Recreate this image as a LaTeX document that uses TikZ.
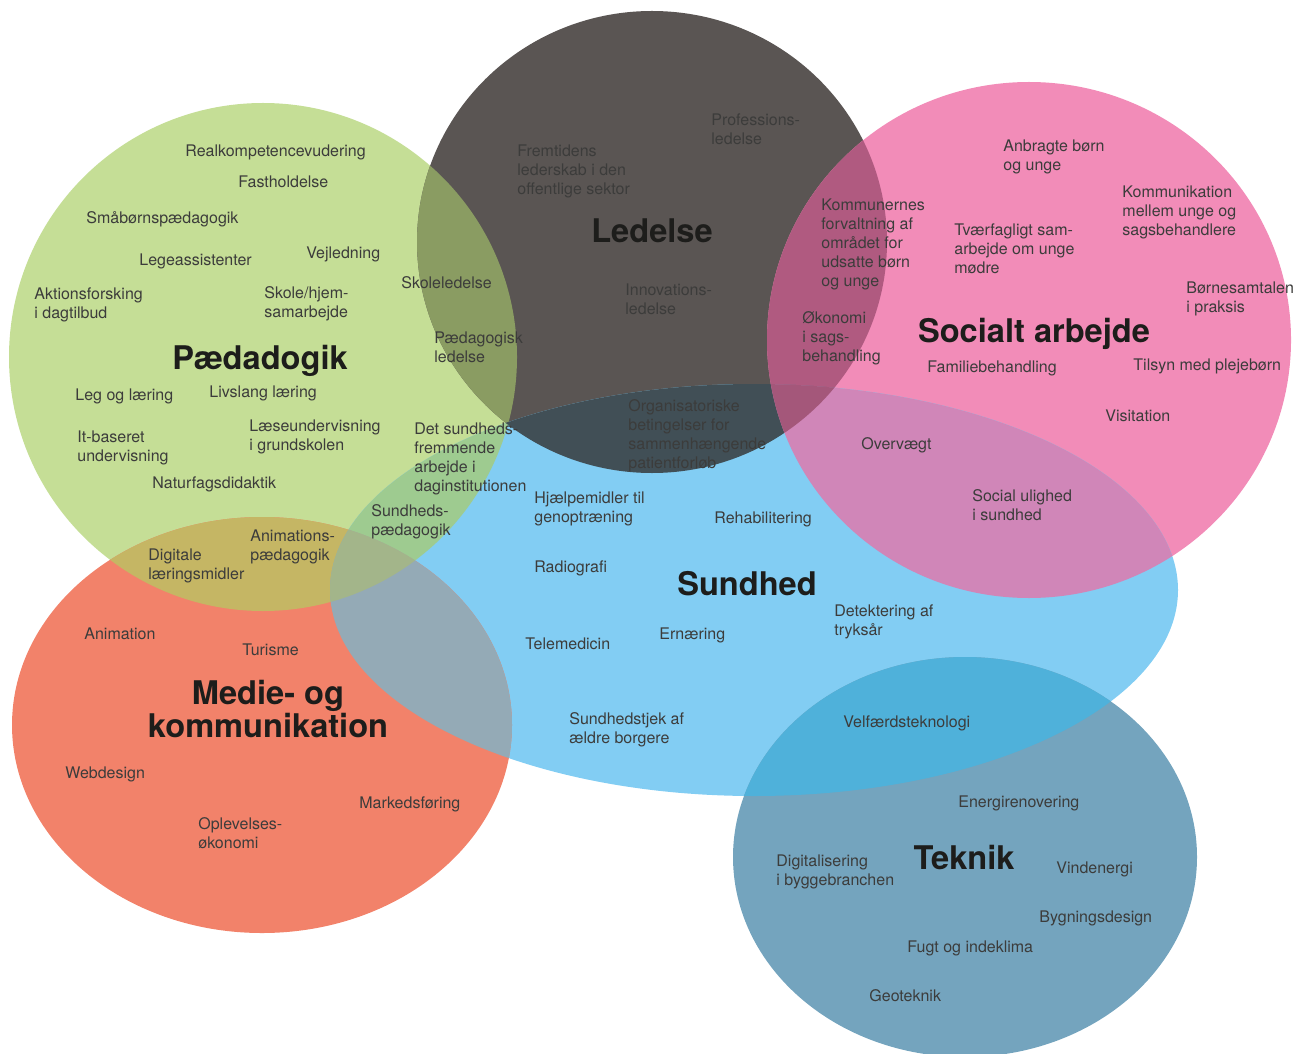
\documentclass[tikz,border=0pt]{standalone}
\usepackage{fontspec}
\setmainfont{TeX Gyre Heros}

% fills of the six fields and of their overlaps
\definecolor{paedgreen}{HTML}{C5DE96}
\definecolor{ledgray}{HTML}{5A5553}
\definecolor{socpink}{HTML}{F28CB8}
\definecolor{sundblue}{HTML}{82CDF3}
\definecolor{mediered}{HTML}{F2826A}
\definecolor{tekblue}{HTML}{74A4BE}
\definecolor{paedled}{HTML}{8A9C62}
\definecolor{ledsoc}{HTML}{B05A80}
\definecolor{ledsund}{HTML}{414F56}
\definecolor{socsund}{HTML}{D086B8}
\definecolor{paedmedie}{HTML}{C5B664}
\definecolor{sundmedie}{HTML}{94AAB6}
\definecolor{paedsund}{HTML}{9ECB90}
\definecolor{sundtek}{HTML}{4FB1DA}
\definecolor{ledsocsund}{HTML}{A4577A}
\definecolor{paedmediesund}{HTML}{A3B58A}
\definecolor{labelgray}{HTML}{3C3C3B}
\definecolor{titleblack}{HTML}{1D1D1B}

\tikzset{
    paedpath/.style={insert path={(263,357) ellipse [x radius=127pt, y radius=127pt]}},
    ledpath/.style={insert path={(652,242) ellipse [x radius=117.5pt, y radius=115.5pt]}},
    socpath/.style={insert path={(1029,340) ellipse [x radius=131pt, y radius=129pt]}},
    sundpath/.style={insert path={(754,590) ellipse [x radius=212pt, y radius=103pt]}},
    mediepath/.style={insert path={(262,725) ellipse [x radius=125pt, y radius=104pt]}},
    tekpath/.style={insert path={(965,857) ellipse [x radius=116pt, y radius=100pt]}},
    topic/.style={anchor=north west, inner sep=0pt, align=left,
        font=\fontsize{8}{9.6}\selectfont, text=labelgray},
    field/.style={inner sep=0pt, align=center,
        font=\fontsize{16.3}{15.5}\selectfont\bfseries, text=titleblack}
}

\begin{document}
\begin{tikzpicture}[x=0.5pt, y=-0.5pt]

        \useasboundingbox (0,0) rectangle (1293,1053);

        % Fields
        \fill[paedgreen, paedpath];
        \fill[ledgray, ledpath];
        \fill[socpink, socpath];
        \fill[sundblue, sundpath];
        \fill[mediered, mediepath];
        \fill[tekblue, tekpath];

        % Overlaps of two fields
        \begin{scope} \clip[paedpath]; \fill[paedled, ledpath]; \end{scope}
        \begin{scope} \clip[paedpath]; \fill[paedsund, sundpath]; \end{scope}
        \begin{scope} \clip[paedpath]; \fill[paedmedie, mediepath]; \end{scope}
        \begin{scope} \clip[ledpath]; \fill[ledsoc, socpath]; \end{scope}
        \begin{scope} \clip[ledpath]; \fill[ledsund, sundpath]; \end{scope}
        \begin{scope} \clip[socpath]; \fill[socsund, sundpath]; \end{scope}
        \begin{scope} \clip[sundpath]; \fill[sundmedie, mediepath]; \end{scope}
        \begin{scope} \clip[sundpath]; \fill[sundtek, tekpath]; \end{scope}

        % Overlaps of three fields
        \begin{scope} \clip[ledpath]; \clip[socpath]; \fill[ledsocsund, sundpath]; \end{scope}
        \begin{scope} \clip[paedpath]; \clip[mediepath]; \fill[paedmediesund, sundpath]; \end{scope}
        \begin{scope} \clip[paedpath]; \clip[ledpath]; \fill[ledsund, sundpath]; \end{scope}

        % Field names
        \node[field, anchor=base] (P0) at (260,369) {Pædadogik};
        \node[field, anchor=base] (L0) at (652,243) {Ledelse};
        \node[field, anchor=base] (S0) at (1034,342) {Socialt arbejde};
        \node[field, anchor=base] (H0) at (747,595) {Sundhed};
        \node[field] (M0) at (268,709) {Medie- og\\kommunikation};
        \node[field, anchor=base] (T0) at (964,869) {Teknik};

        % Pædagogik
        \node[topic] (P1) at (185,144) {Realkompetencevudering};
        \node[topic] (P2) at (238,175) {Fastholdelse};
        \node[topic] (P3) at (86,211) {Småbørnspædagogik};
        \node[topic] (P4) at (139,253) {Legeassistenter};
        \node[topic] (P5) at (306,246) {Vejledning};
        \node[topic] (P6) at (34,287) {Aktionsforsking\\i dagtilbud};
        \node[topic] (P7) at (264,286) {Skole/hjem-\\samarbejde};
        \node[topic] (P8) at (401,276) {Skoleledelse};
        \node[topic] (P9) at (434,331) {Pædagogisk\\ledelse};
        \node[topic] (P10) at (75,388) {Leg og læring};
        \node[topic] (P11) at (209,385) {Livslang læring};
        \node[topic] (P12) at (77,430) {It-baseret\\undervisning};
        \node[topic] (P13) at (249,419) {Læseundervisning\\i grundskolen};
        \node[topic] (P14) at (152,476) {Naturfagsdidaktik};
        \node[topic] (P15) at (414,422) {Det sundheds-\\fremmende\\arbejde i\\daginstitutionen};
        \node[topic] (P16) at (371,504) {Sundheds-\\pædagogik};
        \node[topic] (P17) at (250,529) {Animations-\\pædagogik};
        \node[topic] (P18) at (148,548) {Digitale\\læringsmidler};

        % Ledelse
        \node[topic] (L1) at (517,144) {Fremtidens\\lederskab i den\\offentlige sektor};
        \node[topic] (L2) at (711,113) {Professions-\\ledelse};
        \node[topic] (L3) at (625,283) {Innovations-\\ledelse};
        \node[topic] (L4) at (628,399) {Organisatoriske\\betingelser for\\sammenhængende\\patientforløb};

        % Socialt arbejde
        \node[topic] (S1) at (1003,139) {Anbragte børn\\og unge};
        \node[topic] (S2) at (1122,185) {Kommunikation\\mellem unge og\\sagsbehandlere};
        \node[topic] (S3) at (821,198) {Kommunernes\\forvaltning af\\området for\\udsatte børn\\og unge};
        \node[topic] (S4) at (954,223) {Tværfagligt sam-\\arbejde om unge\\mødre};
        \node[topic] (S5) at (1186,281) {Børnesamtalen\\i praksis};
        \node[topic] (S6) at (802,311) {Økonomi\\i sags-\\behandling};
        \node[topic] (S7) at (927,360) {Familiebehandling};
        \node[topic] (S8) at (1133,358) {Tilsyn med plejebørn};
        \node[topic] (S9) at (1105,409) {Visitation};
        \node[topic] (S10) at (861,437) {Overvægt};
        \node[topic] (S11) at (972,489) {Social ulighed\\i sundhed};

        % Sundhed
        \node[topic] (H1) at (534,491) {Hjælpemidler til\\genoptræning};
        \node[topic] (H2) at (714,511) {Rehabilitering};
        \node[topic] (H3) at (534,560) {Radiografi};
        \node[topic] (H4) at (834,604) {Detektering af\\tryksår};
        \node[topic] (H5) at (525,637) {Telemedicin};
        \node[topic] (H6) at (659,627) {Ernæring};
        \node[topic] (H7) at (569,712) {Sundhedstjek af\\ældre borgere};
        \node[topic] (H8) at (843,715) {Velfærdsteknologi};

        % Medie- og kommunikation
        \node[topic] (M1) at (84,627) {Animation};
        \node[topic] (M2) at (242,643) {Turisme};
        \node[topic] (M3) at (65,766) {Webdesign};
        \node[topic] (M4) at (359,796) {Markedsføring};
        \node[topic] (M5) at (198,817) {Oplevelses-\\økonomi};

        % Teknik
        \node[topic] (T1) at (958,795) {Energirenovering};
        \node[topic] (T2) at (776,854) {Digitalisering\\i byggebranchen};
        \node[topic] (T3) at (1056,861) {Vindenergi};
        \node[topic] (T4) at (1039,910) {Bygningsdesign};
        \node[topic] (T5) at (907,940) {Fugt og indeklima};
        \node[topic] (T6) at (869,989) {Geoteknik};

\end{tikzpicture}
\end{document}
